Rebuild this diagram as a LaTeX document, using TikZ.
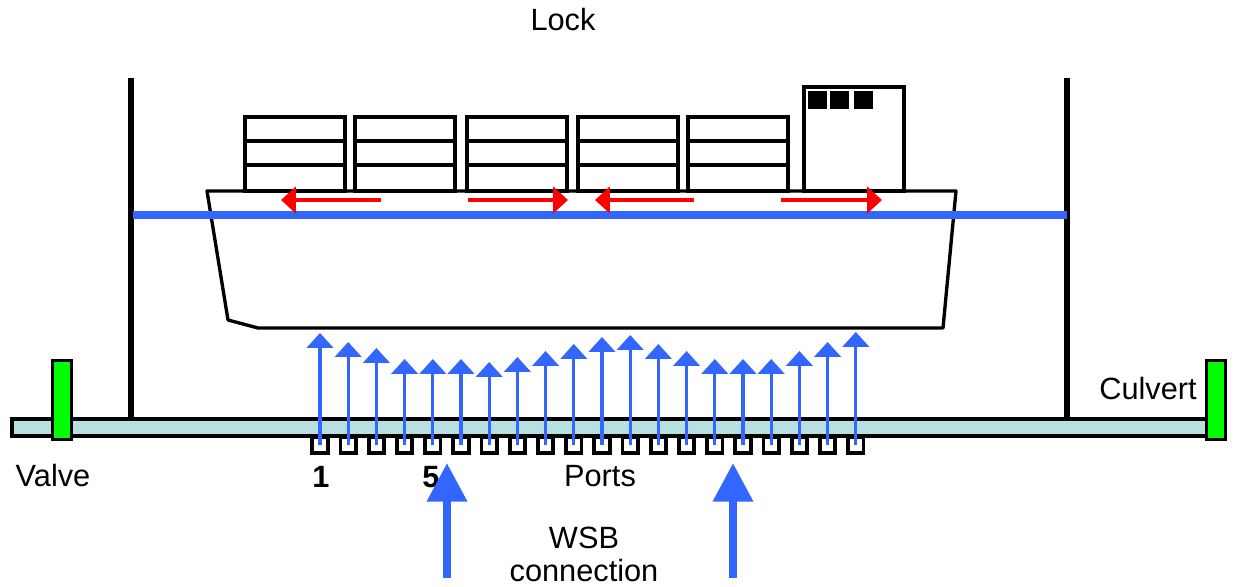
\documentclass[tikz,border=0pt]{standalone}
\usepackage{fontspec}
\setmainfont{Liberation Sans}
\usetikzlibrary{arrows.meta}
\definecolor{flowblue}{HTML}{3366FF}
\definecolor{culvertblue}{HTML}{B8DFE2}
\definecolor{valvegreen}{HTML}{00FF00}

\begin{document}
\begin{tikzpicture}[x=0.02cm, y=-0.02cm,
        txt/.style={font=\fontsize{17.5}{21}\selectfont, inner sep=0pt, anchor=base},
        port/.style={draw, line width=2.1pt, fill=white, minimum size=8.8pt, inner sep=0pt},
        valve/.style={draw, line width=1.6pt, fill=valvegreen, minimum width=11pt, minimum height=45pt, inner sep=0pt},
        portflow/.style={-{Triangle[length=8.5pt,width=15pt]}, flowblue, line width=1.8pt},
        shipflow/.style={-{Triangle[length=8.5pt,width=15pt]}, red, line width=2.5pt},
        supply/.style={-{Triangle[length=22pt,width=22pt]}, flowblue, line width=4.6pt}]
            \useasboundingbox (0,0) rectangle (1234,587);

            \draw[line width=3.6pt] (131,78) -- (131,419);
            \draw[line width=3.6pt] (1067,78) -- (1067,419);

            \draw[line width=1.9pt, fill=white, line join=round] (207,191) -- (956,191) -- (943,328) -- (258,328) -- (228,320) -- cycle;
            \foreach \x in {245,355,467,578,688} {
                \draw[line width=1.9pt] (\x,117) rectangle ++(100,74);
                \draw[line width=1.9pt] (\x,141) -- ++(100,0);
                \draw[line width=1.9pt] (\x,165) -- ++(100,0);
            }
            \draw[line width=1.9pt, fill=white] (804,87) rectangle (904,191);
            \foreach \x in {808,830,854}
                \fill (\x,91) rectangle ++(19,18);

            \draw[flowblue, line width=4.3pt] (133,215) -- (1067,215);
            \draw[shipflow] (381,200) -- (281,200);
            \draw[shipflow] (468,200) -- (568,200);
            \draw[shipflow] (694,200) -- (595,200);
            \draw[shipflow] (781,200) -- (882,200);

            \draw[line width=1.9pt, fill=culvertblue] (12,419) rectangle (1207,436);
            \node[valve] (lvalve) at (62,400) {};
            \node[valve] (rvalve) at (1216,400) {};

            \foreach \i/\tip in {1/333,2/342,3/348,4/359,5/359,6/359,7/362,8/357,9/351,10/344,
                                 11/337,12/335,13/344,14/351,15/359,16/359,17/359,18/351,19/342,20/332} {
                \pgfmathsetmacro\px{320+28.2*(\i-1)}
                \node[port] (port\i) at (\px,445) {};
                \draw[portflow] (port\i.center) -- (\px,\tip);
            }

            \node[txt] (lock) at (563,31) {Lock};
            \node[txt] (valvetxt) at (53,486) {Valve};
            \node[txt] (culverttxt) at (1148,399) {Culvert};
            \node[txt, font=\fontsize{17.5}{21}\selectfont\bfseries] (first) at (321,487) {1};
            \node[txt, font=\fontsize{17.5}{21}\selectfont\bfseries] (fifth) at (431,487) {5};
            \node[txt] (ports) at (600,486) {Ports};
            \node[txt] (wsb) at (584,548) {WSB};
            \node[txt] (conn) at (584,581) {connection};

            \draw[supply] (447,578) -- (447,463);
            \draw[supply] (733,578) -- (733,463);
        \end{tikzpicture}
\end{document}
